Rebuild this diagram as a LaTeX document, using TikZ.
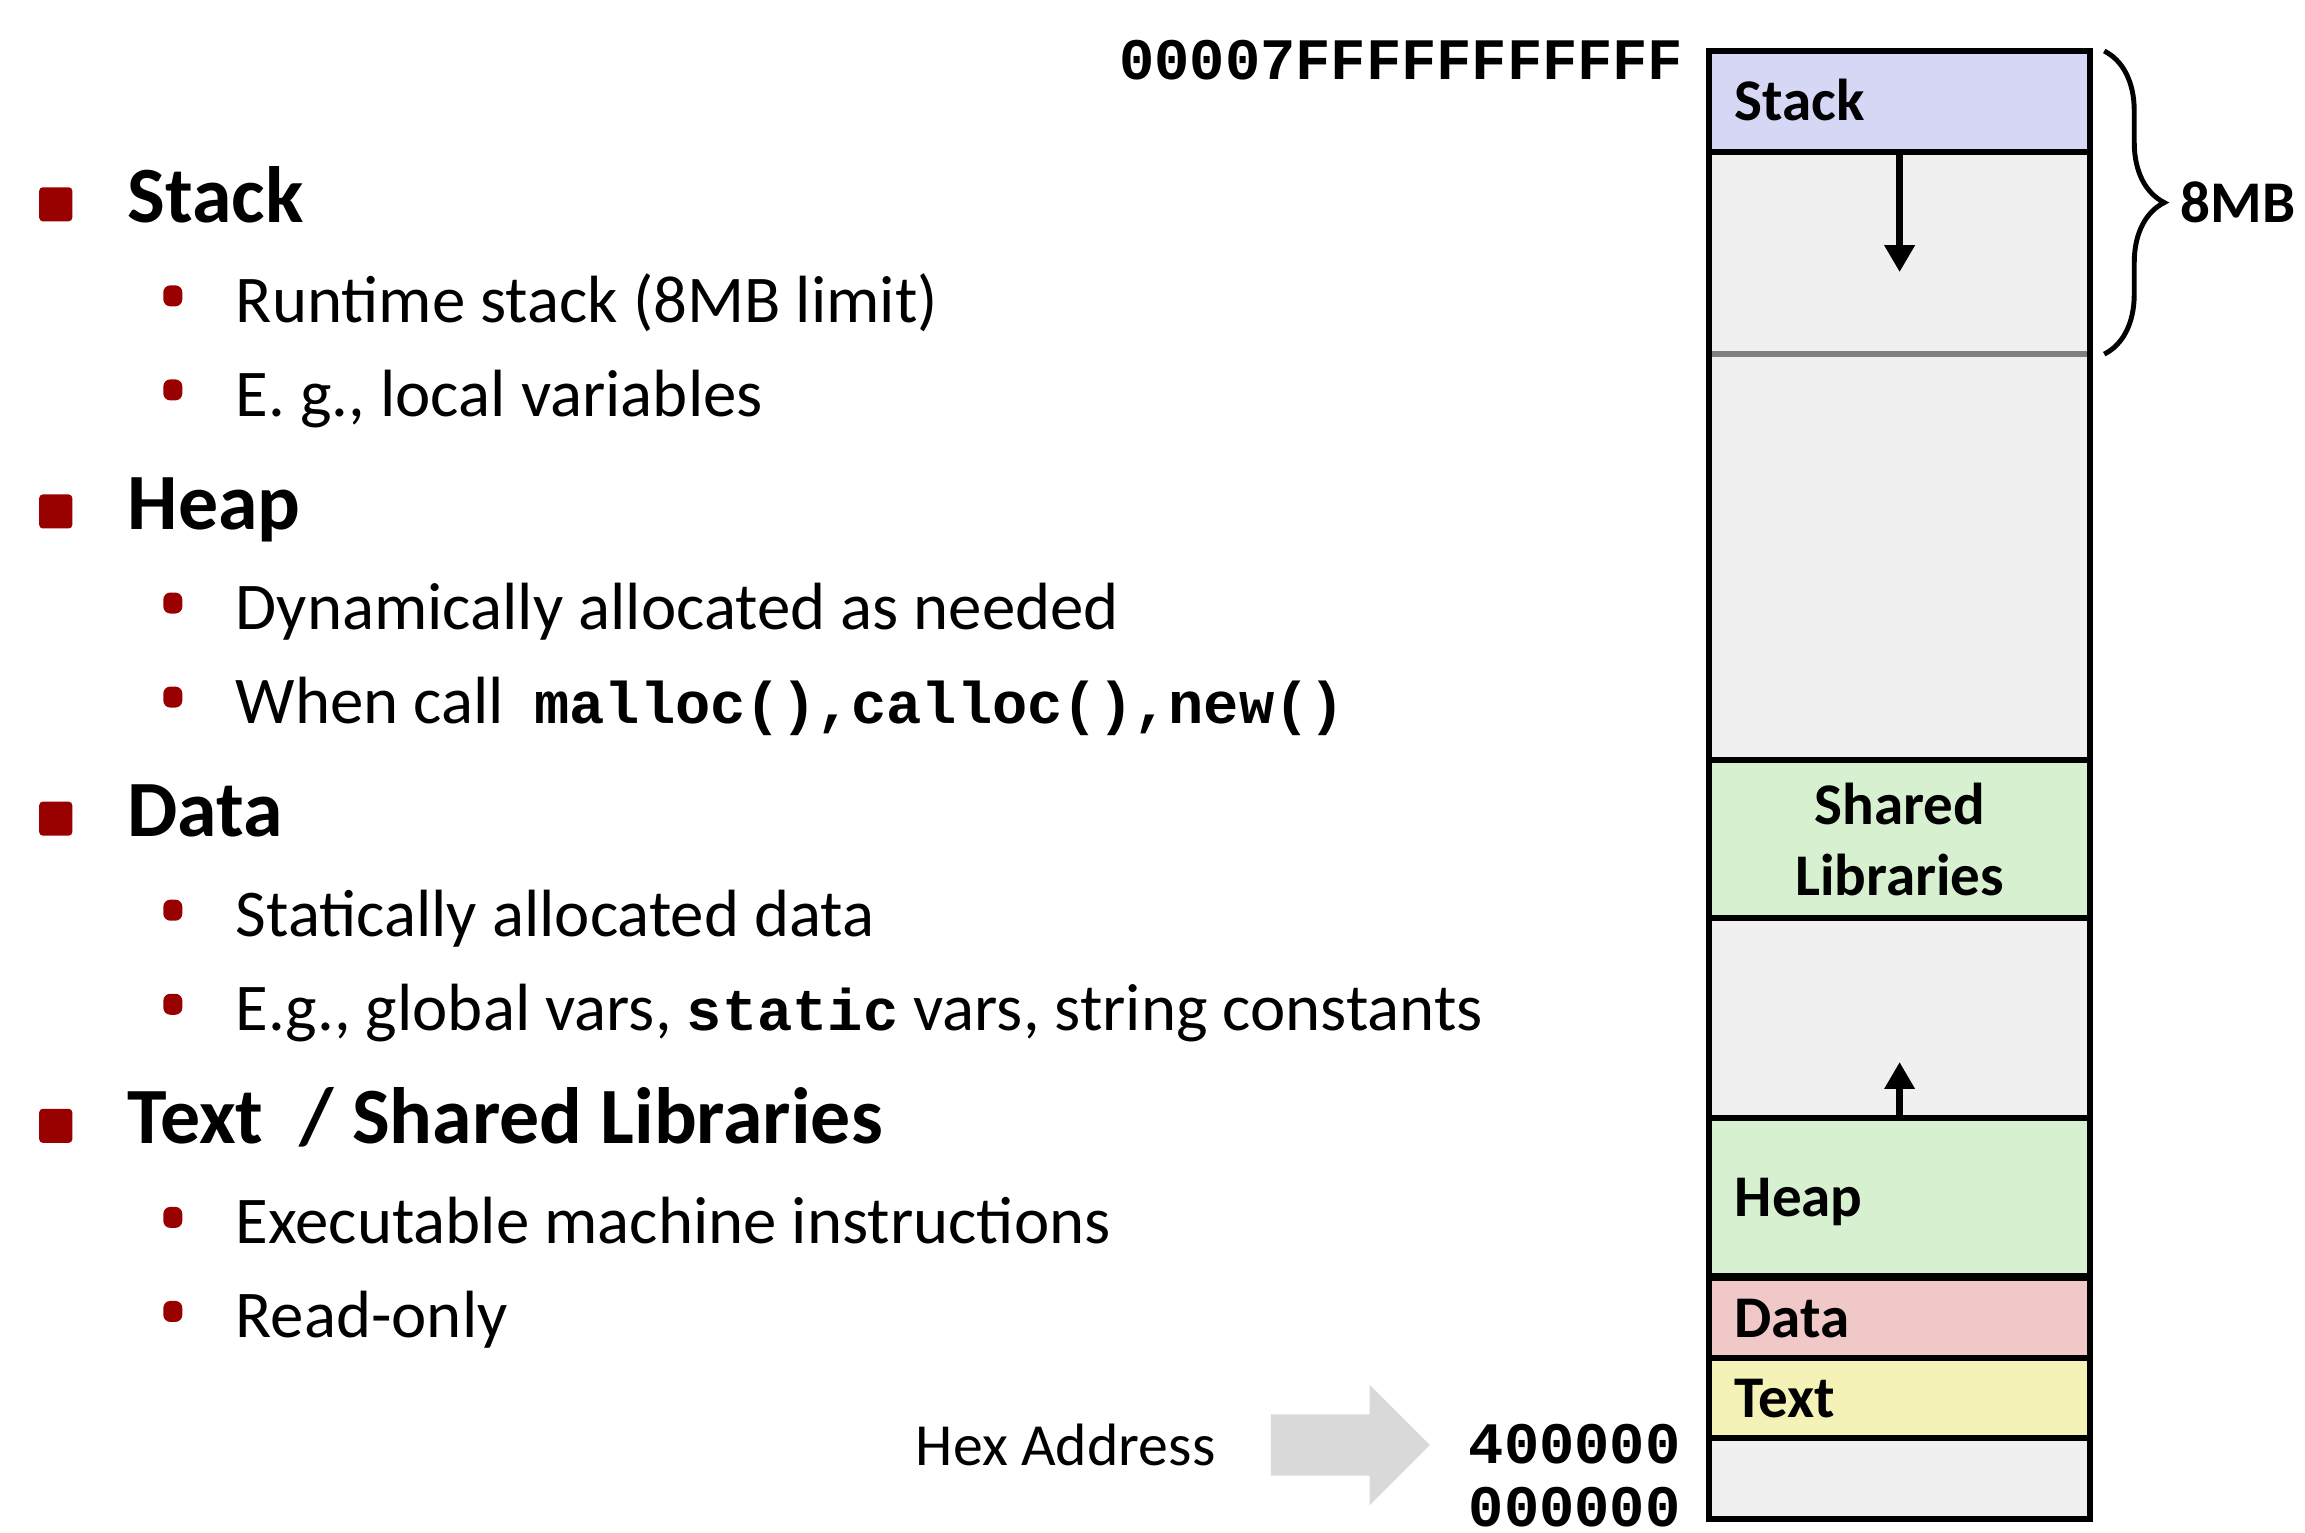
\documentclass[tikz,border=0pt]{standalone}
\usepackage{fontspec}
\setmainfont{Carlito}
\setmonofont{Liberation Mono}
\usetikzlibrary{arrows.meta, positioning, calc, shapes.arrows, decorations.pathreplacing}
\definecolor{bulletred}{RGB}{153,0,0}
\definecolor{memgray}{RGB}{240,240,240}
\definecolor{stackfill}{RGB}{214,214,245}
\definecolor{greenfill}{RGB}{214,240,208}
\definecolor{datafill}{RGB}{240,200,200}
\definecolor{textfill}{RGB}{245,242,184}
\definecolor{arrowgray}{RGB}{217,217,217}
\newcommand{\code}[1]{{\fontsize{16.7}{20}\selectfont\ttfamily\bfseries #1}}
\tikzset{
    memlayout/.style={x=0.01cm, y=-0.01cm},
    heading/.style={font=\fontsize{22.7}{27}\selectfont\bfseries, inner sep=0pt, anchor=base west},
    subitem/.style={font=\fontsize{19}{23}\selectfont, inner sep=0pt, anchor=base west},
    bigbullet/.style={fill=bulletred, minimum width=0.33cm, minimum height=0.34cm, inner sep=0pt, rounded corners=1pt},
    smallbullet/.style={fill=bulletred, minimum width=0.19cm, minimum height=0.21cm, inner sep=0pt, rounded corners=2pt},
    memseg/.style={draw, line width=1.6pt, minimum width=3.81cm, inner sep=0pt, outer sep=0pt, anchor=north west},
    seglabel/.style={font=\fontsize{16.8}{20.2}\selectfont\bfseries, inner sep=0pt, align=center},
    hexaddr/.style={font=\fontsize{16.7}{20}\selectfont\ttfamily\bfseries, inner sep=0pt, anchor=base east},
    growarrow/.style={-{Triangle[length=0.27cm, width=0.29cm]}, line width=2.2pt},
    limitline/.style={draw=gray, line width=1.8pt, shorten <=0.8pt, shorten >=0.8pt},
    sizebrace/.style={decorate, decoration={brace, amplitude=0.6cm}, line width=1.4pt},
    hexarrow/.style={single arrow, fill=arrowgray, minimum height=1.59cm, minimum width=1.19cm,
        single arrow head extend=0.295cm, inner xsep=0pt, inner ysep=0.3cm},
}

\begin{document}
\begin{tikzpicture}[memlayout]
    \useasboundingbox (0,0) rectangle (2305,1533);

    % the four regions and what goes in them
    \node[heading] (hstack) at (127,222) {Stack};
    \node[subitem, below=1cm of hstack.base west, xshift=1.08cm, anchor=base west] (stack1) {Runtime stack (8MB limit)};
    \node[subitem, below=0.94cm of stack1.base west, anchor=base west] (stack2) {E. g., local variables};

    \node[heading, below=3.07cm of hstack.base west, anchor=base west] (hheap) {Heap};
    \node[subitem, below=1cm of hheap.base west, xshift=1.08cm, anchor=base west] (heap1) {Dynamically allocated as needed};
    \node[subitem, below=0.94cm of heap1.base west, anchor=base west] (heap2) {When call~~\code{malloc(),calloc(),new()}};

    \node[heading, below=3.07cm of hheap.base west, anchor=base west] (hdata) {Data};
    \node[subitem, below=1cm of hdata.base west, xshift=1.08cm, anchor=base west] (data1) {Statically allocated data};
    \node[subitem, below=0.94cm of data1.base west, anchor=base west] (data2) {E.g., global vars, \code{static} vars, string constants};

    \node[heading, below=3.07cm of hdata.base west, anchor=base west] (htext) {Text~~/ Shared Libraries};
    \node[subitem, below=1cm of htext.base west, xshift=1.08cm, anchor=base west] (text1) {Executable machine instructions};
    \node[subitem, below=0.94cm of text1.base west, anchor=base west] (text2) {Read-only};

    % bullets
    \node[bigbullet, left=0.54cm of hstack.base west, anchor=south east] (bstack) {};
    \node[bigbullet, left=0.54cm of hheap.base west, anchor=south east] (bheap) {};
    \node[bigbullet, left=0.54cm of hdata.base west, anchor=south east] (bdata) {};
    \node[bigbullet, left=0.54cm of htext.base west, anchor=south east] (btext) {};
    \node[smallbullet, left=0.52cm of stack1.base west, anchor=south east, yshift=0.15cm] (bstack1) {};
    \node[smallbullet, left=0.52cm of stack2.base west, anchor=south east, yshift=0.15cm] (bstack2) {};
    \node[smallbullet, left=0.52cm of heap1.base west, anchor=south east, yshift=0.15cm] (bheap1) {};
    \node[smallbullet, left=0.52cm of heap2.base west, anchor=south east, yshift=0.15cm] (bheap2) {};
    \node[smallbullet, left=0.52cm of data1.base west, anchor=south east, yshift=0.15cm] (bdata1) {};
    \node[smallbullet, left=0.52cm of data2.base west, anchor=south east, yshift=0.15cm] (bdata2) {};
    \node[smallbullet, left=0.52cm of text1.base west, anchor=south east, yshift=0.15cm] (btext1) {};
    \node[smallbullet, left=0.52cm of text2.base west, anchor=south east, yshift=0.15cm] (btext2) {};

    % memory column
    \node[memseg, fill=memgray, minimum height=14.67cm] (col) at (1709,51) {};
    \node[memseg, draw=none, minimum height=2.02cm] (stackroom) at (1709,152) {};
    \draw[limitline] (stackroom.south west) -- (stackroom.south east);
    \node[memseg, fill=stackfill, minimum height=1.01cm] (stackseg) at (1709,51) {};
    \node[memseg, fill=greenfill, minimum height=1.58cm] (libseg) at (1709,760) {};
    \node[memseg, fill=greenfill, minimum height=1.58cm] (heapseg) at (1709,1118) {};
    \node[memseg, fill=datafill, minimum height=0.8cm] (dataseg) at (1709,1278) {};
    \node[memseg, fill=textfill, minimum height=0.8cm] (textseg) at (1709,1358) {};

    \node[seglabel, anchor=base west] (lstack) at ([xshift=0.25cm, yshift=-0.19cm]stackseg.west) {Stack};
    \node[seglabel] (llib) at (libseg.center) {Shared\\Libraries};
    \node[seglabel, anchor=base west] (lheap) at ([xshift=0.25cm, yshift=-0.19cm]heapseg.west) {Heap};
    \node[seglabel, anchor=base west] (ldata) at ([xshift=0.25cm, yshift=-0.19cm]dataseg.west) {Data};
    \node[seglabel, anchor=base west] (ltext) at ([xshift=0.25cm, yshift=-0.19cm]textseg.west) {Text};

    % growth directions
    \coordinate (stackend) at ([yshift=-1.2cm]stackseg.south);
    \coordinate (heapend) at ([yshift=0.56cm]heapseg.north);
    \draw[growarrow] (stackseg.south) -- (stackend);
    \draw[growarrow] (heapseg.north) -- (heapend);

    % 8MB limit
    \draw[sizebrace] ([xshift=0.14cm]stackseg.north east) -- ([xshift=0.14cm]stackroom.south east)
        node[midway, right=0.74cm, inner sep=0pt, font=\fontsize{16.8}{20}\selectfont\bfseries] (mb) {8MB};

    % addresses
    \node[hexaddr] (addrtop) at (1684,80) {00007FFFFFFFFFFF};
    \node[hexaddr] (addrtext) at (1681,1463) {400000};
    \node[hexaddr] (addrzero) at (1681,1526) {000000};
    \node[hexarrow] (hexarr) at (1335,1445) {};
    \node[font=\fontsize{17}{20}\selectfont, inner sep=0pt, left=0.54cm of hexarr.tail] (hexlabel) {Hex Address};
\end{tikzpicture}
\end{document}
